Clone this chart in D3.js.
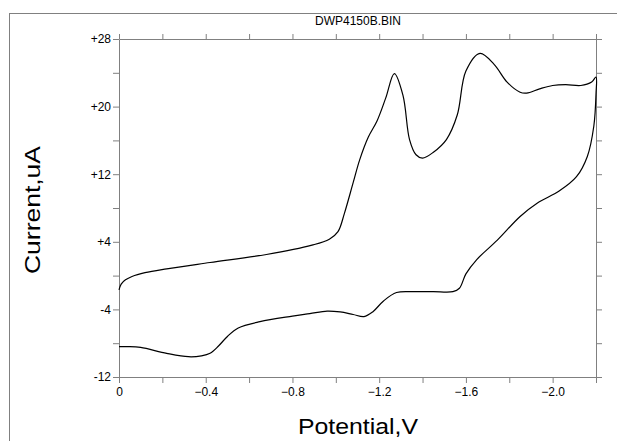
<!DOCTYPE html>
<html>
<head>
<meta charset="utf-8">
<script src="https://cdn.jsdelivr.net/npm/d3@7"></script>
<style>
  html, body { margin: 0; padding: 0; background: #fff; overflow: hidden; }
  text { font-family: "Liberation Sans", Arial, sans-serif; fill: #000; }
</style>
</head>
<body>
<svg id="chart" width="617" height="441"></svg>
<script>
// forward scan (upper branch), potential in V, current in uA
const upperV = [0, -0.01, -0.03, -0.06, -0.12, -0.22, -0.42, -0.68, -0.89, -0.97, -1.01, -1.04, -1.08, -1.11,
  -1.15, -1.19, -1.23, -1.27, -1.31, -1.34, -1.37, -1.40, -1.45, -1.51, -1.56, -1.60, -1.665, -1.73,
  -1.79, -1.85, -1.88, -1.94, -2.00, -2.06, -2.13, -2.18, -2.20];
const upperI = [-1.7, -1.0, -0.5, -0.1, 0.35, 0.8, 1.55, 2.5, 3.6, 4.3, 5.2, 7.4, 11.0, 13.7,
  16.4, 18.3, 21.0, 23.9, 21.3, 16.1, 14.3, 13.9, 14.6, 16.1, 19.0, 24.2, 26.3, 25.0,
  22.9, 21.7, 21.6, 22.1, 22.5, 22.6, 22.5, 22.9, 23.5];

// reverse scan (lower branch)
const lowerV = [-2.20, -2.19, -2.16, -2.11, -2.03, -1.93, -1.85, -1.745, -1.65, -1.60, -1.57,
  -1.54, -1.45, -1.36, -1.28, -1.22, -1.17, -1.13, -1.08, -1.02, -0.96, -0.88, -0.80, -0.65, -0.55,
  -0.50, -0.46, -0.42, -0.38, -0.32, -0.22, -0.10, -0.04, 0];
const lowerI = [21.5, 17.7, 14.1, 11.7, 10.0, 8.6, 7.0, 4.2, 1.9, 0.2, -1.5,
  -1.9, -1.9, -1.9, -2.0, -3.0, -4.3, -4.85, -4.6, -4.3, -4.2, -4.5, -4.8, -5.45, -6.2,
  -7.2, -8.3, -9.2, -9.5, -9.6, -9.2, -8.5, -8.4, -8.4];

const xTicks = [0, -0.2, -0.4, -0.6, -0.8, -1.0, -1.2, -1.4, -1.6, -1.8, -2.0, -2.2];
const xLabels = [0, -0.4, -0.8, -1.2, -1.6, -2.0];
const yTicks = [-12, -8, -4, 0, 4, 8, 12, 16, 20, 24, 28];
const yLabels = [-12, -4, 4, 12, 20, 28];

const svg = d3.select('#chart');
const plotLeft = 119, plotRight = 596, plotTop = 39, plotBottom = 377;
const axisColor = '#808080';

// outer frame
svg.append('rect')
  .attr('x', 9.5).attr('y', 13.5)
  .attr('width', 700).attr('height', 500)
  .attr('fill', 'none').attr('stroke', axisColor);

const x = d3.scaleLinear().domain([0, -2.2]).range([plotLeft, plotRight]);
const y = d3.scaleLinear().domain([-12, 28]).range([plotBottom, plotTop]);

const fmtX = d => (xLabels.some(v => Math.abs(v - d) < 1e-9) ? (d === 0 ? '0' : d3.format('.1f')(d)) : '');
const fmtY = d => (yLabels.includes(d) ? (d > 0 ? '+' + d : String(d)) : '');

function styleAxis(g) {
  g.select('.domain').attr('stroke', axisColor);
  g.selectAll('.tick line').attr('stroke', axisColor);
  g.selectAll('.tick text')
    .style('font-family', '"Liberation Sans", Arial, sans-serif')
    .style('font-size', '12px').attr('fill', '#000');
}

svg.append('g').attr('transform', `translate(0,${plotBottom})`)
  .call(d3.axisBottom(x).tickValues(xTicks).tickSize(6).tickPadding(4).tickSizeOuter(0).tickFormat(fmtX))
  .call(styleAxis);

svg.append('g').attr('transform', `translate(0,${plotTop})`)
  .call(d3.axisTop(x).tickValues(xTicks).tickSize(5).tickSizeOuter(0).tickFormat(''))
  .call(styleAxis);

svg.append('g').attr('transform', `translate(${plotLeft},0)`)
  .call(d3.axisLeft(y).tickValues(yTicks).tickSize(6).tickPadding(2).tickSizeOuter(0).tickFormat(fmtY))
  .call(styleAxis);

svg.append('g').attr('transform', `translate(${plotRight},0)`)
  .call(d3.axisRight(y).tickValues(yTicks).tickSize(6).tickSizeOuter(0).tickFormat(''))
  .call(styleAxis);

// the cyclic voltammogram
const pts = upperV.map((v, i) => [v, upperI[i]])
  .concat(lowerV.map((v, i) => [v, lowerI[i]]));

const line = d3.line()
  .x(d => x(d[0]))
  .y(d => y(d[1]))
  .curve(d3.curveCatmullRom.alpha(0.5));

svg.append('path')
  .datum(pts)
  .attr('d', line)
  .attr('fill', 'none')
  .attr('stroke', '#000')
  .attr('stroke-width', 1.2);

// titles
svg.append('text')
  .attr('x', 358).attr('y', 25)
  .attr('text-anchor', 'middle')
  .style('font-size', '12px')
  .text('DWP4150B.BIN');

svg.append('text')
  .attr('x', 358).attr('y', 434)
  .attr('text-anchor', 'middle')
  .attr('textLength', 120).attr('lengthAdjust', 'spacingAndGlyphs')
  .style('font-size', '22px')
  .text('Potential,V');

svg.append('text')
  .attr('transform', 'translate(40,210) rotate(-90)')
  .attr('text-anchor', 'middle')
  .attr('textLength', 128).attr('lengthAdjust', 'spacingAndGlyphs')
  .style('font-size', '22px')
  .text('Current,uA');
</script>
</body>
</html>
